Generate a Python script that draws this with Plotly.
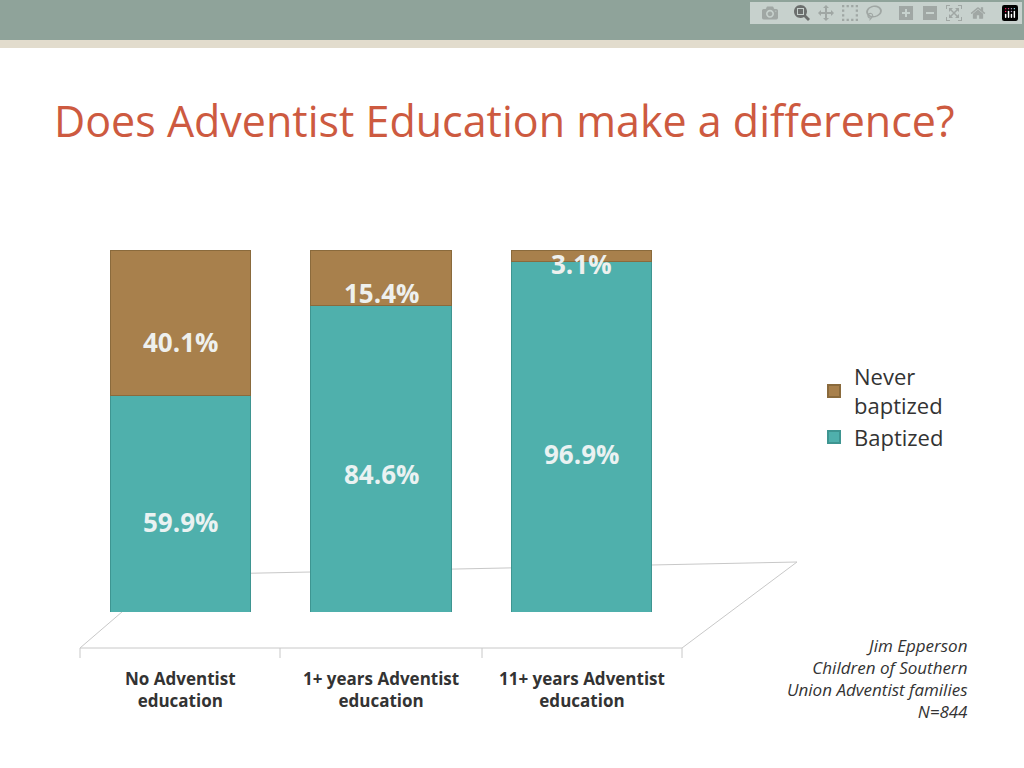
import plotly.graph_objects as go

categories = ["No Adventist<br>education", "1+ years Adventist<br>education", "11+ years Adventist<br>education"]
baptized = [59.9, 84.6, 96.9]
never = [40.1, 15.4, 3.1]
baptized_label_y = [25, 38, 43.7]
never_label_y = [74.6, 88, 96]

W, H = 1024, 768
def px(x, y):
    return x / W, 1 - y / H

fig = go.Figure()
fig.add_trace(go.Bar(x=categories, y=baptized, name="Baptized",
                     marker=dict(color="#4fb0ac", line=dict(color="#3e9591", width=1))))
fig.add_trace(go.Bar(x=categories, y=never, name="Never<br>baptized",
                     marker=dict(color="#a8804c", line=dict(color="#8a6a3c", width=1))))

anns = []
for c, v, y in zip(categories, baptized, baptized_label_y):
    anns.append(dict(x=c, y=y, text=f"<b>{v}%</b>", showarrow=False, yanchor="middle",
                     font=dict(size=26, color="#eaf2f2", family="Open Sans")))
for c, v, y in zip(categories, never, never_label_y):
    anns.append(dict(x=c, y=y, text=f"<b>{v}%</b>", showarrow=False, yanchor="middle",
                     font=dict(size=26, color="#eef0ee", family="Open Sans")))
for c in categories:
    anns.append(dict(x=c, y=1 - 689 / H, yref="paper", yanchor="middle", text=f"<b>{c}</b>",
                     showarrow=False, font=dict(size=17, color="#333333", family="Open Sans")))
anns.append(dict(x=970 / W, y=1 - 678 / H, xref="paper", yref="paper", xanchor="right",
                 yanchor="middle", align="right", showarrow=False,
                 text="<i>Jim Epperson<br>Children of Southern<br>Union Adventist families<br>N=844</i>",
                 font=dict(size=17, color="#333333", family="Open Sans")))
anns.append(dict(x=52 / W, y=1 - 120 / H, xref="paper", yref="paper", xanchor="left",
                 yanchor="middle", showarrow=False,
                 text="Does Adventist Education make a difference?",
                 font=dict(size=43, color="#cd5a40", family="Open Sans")))

shapes = [
    dict(type="rect", xref="paper", yref="paper", x0=0, x1=1, y0=1 - 40 / H, y1=1,
         fillcolor="#8fa39a", line_width=0, layer="below"),
    dict(type="rect", xref="paper", yref="paper", x0=0, x1=1, y0=1 - 48 / H, y1=1 - 40 / H,
         fillcolor="#e2dccd", line_width=0, layer="below"),
]
a, b, c, d = px(80, 648), px(165, 575), px(797, 562), px(682, 648)
shapes.append(dict(type="path", xref="paper", yref="paper", layer="below",
                   path=f"M{a[0]},{a[1]} L{b[0]},{b[1]} L{c[0]},{c[1]} L{d[0]},{d[1]} Z",
                   line=dict(color="#c8c8c8", width=1), fillcolor="rgba(0,0,0,0)"))
for x in [80, 280, 482, 682]:
    p0, p1 = px(x, 648), px(x, 658)
    shapes.append(dict(type="line", xref="paper", yref="paper", x0=p0[0], x1=p1[0],
                       y0=p0[1], y1=p1[1], line=dict(color="#c8c8c8", width=1)))

fig.update_layout(
    barmode="stack", bargap=0.3, width=W, height=H,
    margin=dict(l=0, r=0, t=0, b=0),
    paper_bgcolor="white", plot_bgcolor="rgba(0,0,0,0)",
    xaxis=dict(domain=[80 / W, 682 / W], showticklabels=False, showgrid=False, zeroline=False),
    yaxis=dict(domain=[1 - 612 / H, 1 - 250 / H], range=[0, 100], visible=False),
    legend=dict(x=814 / W, y=1 - 356 / H, xanchor="left", yanchor="top", traceorder="reversed",
                font=dict(size=22, color="#333333", family="Open Sans"), itemsizing="constant",
                tracegroupgap=14),
    annotations=anns, shapes=shapes, showlegend=True,
)
fig.write_html("out.html", post_script="document.body.style.margin='0';")
